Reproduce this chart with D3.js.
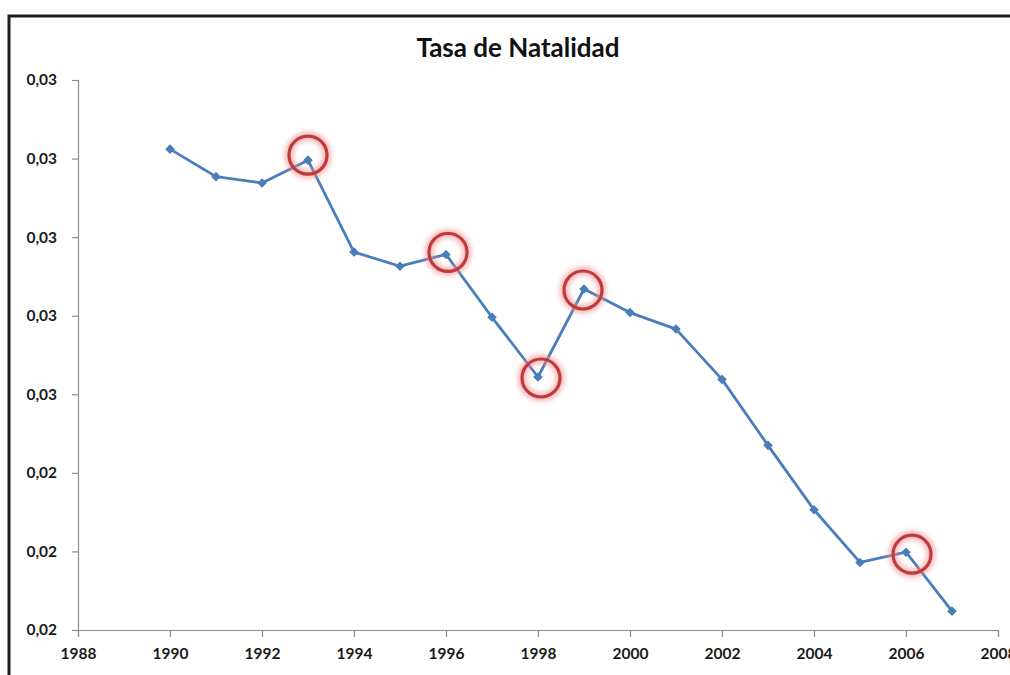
<!DOCTYPE html>
<html>
<head>
<meta charset="utf-8">
<script src="https://cdn.jsdelivr.net/npm/d3@7"></script>
<style>
  body { margin: 0; background: #fff; }
  svg { display: block; font-family: Lato, "Open Sans", sans-serif; }
</style>
</head>
<body>
<div id="chart"></div>
<script>
// datos
const years = [1990, 1991, 1992, 1993, 1994, 1995, 1996, 1997, 1998, 1999,
               2000, 2001, 2002, 2003, 2004, 2005, 2006, 2007];
const natalidad = [0.02812, 0.02777, 0.02769, 0.02798, 0.02681, 0.02663, 0.02678, 0.02598, 0.02522, 0.02634,
                   0.02604, 0.02583, 0.02519, 0.02435, 0.02353, 0.02286, 0.02299, 0.02224];
const marcados = [1993, 1996, 1998, 1999, 2006];   // años con circulo rojo

const xTicks = [1988, 1990, 1992, 1994, 1996, 1998, 2000, 2002, 2004, 2006, 2008];
const yTicks = [0.022, 0.023, 0.024, 0.025, 0.026, 0.027, 0.028, 0.029];
const yTickLabels = ["0,02", "0,02", "0,02", "0,03", "0,03", "0,03", "0,03", "0,03"];

const width = 1010, height = 675;
const margin = { top: 80, right: 12, bottom: 45, left: 78 };

// pequeño desplazamiento de los circulos respecto al punto (dibujados a mano en el original)
const nudge = { 1993: [0, -5], 1996: [2, -2], 1998: [3, 1], 1999: [-1, 1], 2006: [6, 2] };

const svg = d3.select("#chart")
    .append("svg")
    .attr("width", width)
    .attr("height", height);

const defs = svg.append("defs");
defs.append("filter")
    .attr("id", "glow")
    .attr("x", "-50%").attr("y", "-50%").attr("width", "200%").attr("height", "200%")
    .append("feGaussianBlur")
    .attr("stdDeviation", 2.5);

// marco negro
svg.append("path")
    .attr("d", `M9,${height + 5} L9,16 L${width + 5},16`)
    .attr("fill", "none")
    .attr("stroke", "#1e1e1e")
    .attr("stroke-width", 3);

const x = d3.scaleLinear()
    .domain([1988, 2008])
    .range([margin.left, 998]);

const y = d3.scaleLinear()
    .domain([0.022, 0.029])
    .range([630, margin.top]);

// titulo
svg.append("text")
    .attr("x", 518)
    .attr("y", 57)
    .attr("text-anchor", "middle")
    .style("font-size", "26px")
    .style("font-weight", "bold")
    .style("fill", "#111")
    .text("Tasa de Natalidad");

// ejes
const xAxis = svg.append("g")
    .attr("transform", `translate(0, ${y(0.022)})`)
    .call(d3.axisBottom(x).tickValues(xTicks).tickFormat(d3.format("d")).tickSizeOuter(0).tickSize(7).tickPadding(11));

const yAxis = svg.append("g")
    .attr("transform", `translate(${x(1988)}, 0)`)
    .call(d3.axisLeft(y).tickValues(yTicks).tickFormat((d, i) => yTickLabels[i]).tickSizeOuter(0).tickSize(6).tickPadding(15));

[xAxis, yAxis].forEach(g => {
    g.select(".domain").attr("stroke", "#8c8c8c").attr("stroke-width", 1.2);
    g.selectAll(".tick line").attr("stroke", "#8c8c8c").attr("stroke-width", 1.2);
    g.selectAll(".tick text")
        .style("font-size", "15.5px")
        .style("font-weight", "bold")
        .style("font-family", "Lato, 'Open Sans', sans-serif")
        .attr("fill", "#1a1a1a");
});

const puntos = years.map((yr, i) => ({ year: yr, value: natalidad[i] }));

const line = d3.line()
    .x(d => x(d.year))
    .y(d => y(d.value));

svg.append("path")
    .datum(puntos)
    .attr("d", line)
    .attr("fill", "none")
    .attr("stroke", "#4a7ebb")
    .attr("stroke-width", 2.8)
    .attr("stroke-linejoin", "round");

svg.selectAll(".marker")
    .data(puntos)
    .join("path")
    .attr("class", "marker")
    .attr("d", d3.symbol().type(d3.symbolSquare).size(46))
    .attr("transform", d => `translate(${x(d.year)}, ${y(d.value)}) rotate(45)`)
    .attr("fill", "#4a7ebb");

// circulos rojos
const ring = svg.append("g")
    .selectAll("g")
    .data(puntos.filter(d => marcados.includes(d.year)))
    .join("g")
    .attr("transform", d => `translate(${x(d.year) + nudge[d.year][0]}, ${y(d.value) + nudge[d.year][1]})`);

ring.append("circle")
    .attr("r", 19)
    .attr("fill", "none")
    .attr("stroke", "#f08c8c")
    .attr("stroke-width", 9)
    .attr("opacity", 0.6)
    .attr("filter", "url(#glow)");

ring.append("circle")
    .attr("r", 19)
    .attr("fill", "none")
    .attr("stroke", "#c0393b")
    .attr("stroke-width", 3.2);
</script>
</body>
</html>
